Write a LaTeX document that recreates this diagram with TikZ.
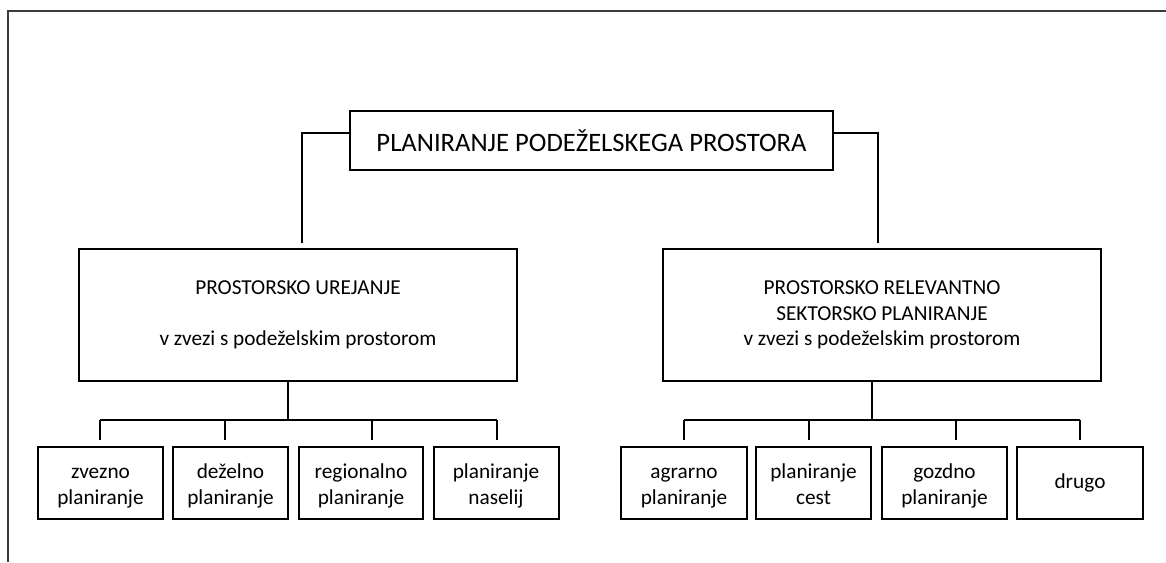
\documentclass[tikz,border=0pt]{standalone}
\usepackage{fontspec}
\setmainfont{Carlito}
\definecolor{framegray}{RGB}{60,60,60}
\newcommand{\tstrut}{\rule{0pt}{24.5pt}}
\newcommand{\bstrut}{\rule[-7.6pt]{0pt}{7.6pt}}
\begin{document}
\begin{tikzpicture}[x=1pt,y=-1pt,
  box/.style={draw=black,line width=2pt,inner sep=0pt,align=center},
  small/.style={font=\fontsize{21.3}{25.3}\selectfont},
  leaf/.style={box,small,minimum height=72pt},
  conn/.style={draw=black,line width=2pt},
  framel/.style={draw=framegray,line width=2.2pt}]
\useasboundingbox (0,0) rectangle (1166,562);
% frame
\coordinate (fa) at (8,562);
\coordinate (fb) at (8,11);
\coordinate (fc) at (1166,11);
\draw[framel] (fa) -- (fb) -- (fc);
% top
\node[box,minimum width=483pt,minimum height=59pt,font=\fontsize{26.6}{32}\selectfont] (T) at (591.5,140.5) {PLANIRANJE PODEŽELSKEGA PROSTORA};
% main boxes
\node[box,small,minimum width=438pt,minimum height=132pt] (A) at (298,315) {PROSTORSKO UREJANJE\\ \mbox{}\\ v zvezi s podeželskim prostorom};
\node[box,small,minimum width=438pt,minimum height=132pt] (B) at (882,315) {PROSTORSKO RELEVANTNO\\SEKTORSKO PLANIRANJE\\v zvezi s podeželskim prostorom};
% top connectors
\coordinate (La) at (302,243);
\coordinate (Ra) at (878,243);
\draw[conn] ([yshift=7.5pt]T.west) -| (La);
\draw[conn] ([yshift=7.5pt]T.east) -| (Ra);
% leaves left
\node[leaf,minimum width=125pt] (a1) at (100.5,483) {\tstrut zvezno\\planiranje\bstrut};
\node[leaf,minimum width=115pt] (a2) at (230.5,483) {\tstrut deželno\\planiranje\bstrut};
\node[leaf,minimum width=124pt] (a3) at (361,483) {\tstrut regionalno\\planiranje\bstrut};
\node[leaf,minimum width=125pt] (a4) at (496,483) {\tstrut planiranje\\naselij\bstrut};
% leaves right
\node[leaf,minimum width=126pt] (b1) at (684,483) {\tstrut agrarno\\planiranje\bstrut};
\node[leaf,minimum width=115pt] (b2) at (813.5,483) {\tstrut planiranje\\cest\bstrut};
\node[leaf,minimum width=125pt] (b3) at (944.5,483) {\tstrut gozdno\\planiranje\bstrut};
\node[leaf,minimum width=126pt] (b4) at (1080,483) {\strut drugo};
% left tree
\coordinate (Lb) at (288,420);
\coordinate (k1) at (100,420);
\coordinate (k2) at (225,420);
\coordinate (k3) at (372,420);
\coordinate (k4) at (497,420);
\draw[conn] ([xshift=-10pt]A.south) -- (Lb);
\draw[conn] (k1) -- (k4);
\foreach \k in {k1,k2,k3,k4} \draw[conn] (\k) -- ++(0,20);
% right tree
\coordinate (Rb) at (872,420);
\coordinate (m1) at (684,420);
\coordinate (m2) at (809,420);
\coordinate (m3) at (956,420);
\coordinate (m4) at (1080,420);
\draw[conn] ([xshift=-10pt]B.south) -- (Rb);
\draw[conn] (m1) -- (m4);
\foreach \k in {m1,m2,m3,m4} \draw[conn] (\k) -- ++(0,20);
\end{tikzpicture}
\end{document}
